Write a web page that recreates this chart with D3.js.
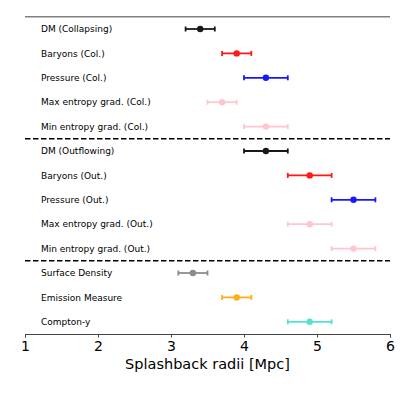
<!DOCTYPE html>
<html><head><meta charset="utf-8">
<script src="https://cdn.jsdelivr.net/npm/d3@7"></script>
<style>body{margin:0;background:#fff}svg{display:block}text{font-family:"DejaVu Sans",sans-serif}</style>
</head><body>
<script>
const labels = ["DM (Collapsing)","Baryons (Col.)","Pressure (Col.)","Max entropy grad. (Col.)","Min entropy grad. (Col.)",
  "DM (Outflowing)","Baryons (Out.)","Pressure (Out.)","Max entropy grad. (Out.)","Min entropy grad. (Out.)",
  "Surface Density","Emission Measure","Compton-y"];
const centers = [3.4,3.9,4.3,3.7,4.3, 4.3,4.9,5.5,4.9,5.5, 3.3,3.9,4.9];
const errors  = [0.2,0.2,0.3,0.2,0.3, 0.3,0.3,0.3,0.3,0.3, 0.2,0.2,0.3];
const colors  = ["black","red","blue","pink","pink","black","red","blue","pink","pink","gray","orange","turquoise"];
const xTicks = [1,2,3,4,5,6];
const dividers = [4.5, 9.5];

const W=416,H=395;
const svg=d3.select("body").append("svg").attr("width",W).attr("height",H);
const x=d3.scaleLinear().domain([1,6]).range([25,390]);
const y=d3.scaleLinear().domain([-0.5,12.5]).range([16.8,334]);

// top solid line
svg.append("line").attr("x1",x(1)).attr("x2",x(6)).attr("y1",y(-0.5)).attr("y2",y(-0.5))
  .attr("stroke","#808080").attr("stroke-width",1.5);
// dashed dividers
svg.selectAll("line.div").data(dividers).join("line").attr("class","div")
  .attr("x1",x(1)).attr("x2",x(6)).attr("y1",d=>y(d)).attr("y2",d=>y(d))
  .attr("stroke","#000").attr("stroke-width",1.5).attr("stroke-dasharray","5.5,2.5");

// labels
svg.selectAll("text.lab").data(labels).join("text").attr("class","lab")
  .attr("x",41).attr("y",(d,i)=>y(i)).attr("dy","0.35em")
  .attr("font-size",9).attr("fill","#000").text(d=>d);

// error bars
const g=svg.append("g");
labels.forEach((l,i)=>{
  const c=colors[i], yy=y(i), lo=x(centers[i]-errors[i]), hi=x(centers[i]+errors[i]);
  const eg=g.append("g").attr("opacity",0.9);
  eg.append("line").attr("x1",lo).attr("x2",hi).attr("y1",yy).attr("y2",yy).attr("stroke",c).attr("stroke-width",1.8);
  [lo,hi].forEach(v=>eg.append("line").attr("x1",v).attr("x2",v).attr("y1",yy-2.5).attr("y2",yy+2.5).attr("stroke",c).attr("stroke-width",1.8));
  eg.append("circle").attr("cx",x(centers[i])).attr("cy",yy).attr("r",3.2).attr("fill",c);
});

// x axis
const ax=svg.append("g").attr("transform",`translate(0,${y(12.5)})`)
  .call(d3.axisBottom(x).tickValues(xTicks).tickFormat(d3.format("d")).tickSize(3.5).tickPadding(3.5));
ax.select(".domain").attr("stroke","#444").attr("stroke-width",1);
ax.selectAll(".tick line").attr("stroke","#444");
ax.selectAll(".tick text").attr("font-size",14).attr("fill","#000").attr("font-family","DejaVu Sans");

svg.append("text").attr("x",(x(1)+x(6))/2).attr("y",369).attr("text-anchor","middle")
  .attr("font-size",14.5).attr("fill","#000").text("Splashback radii [Mpc]");
</script>
</body></html>
